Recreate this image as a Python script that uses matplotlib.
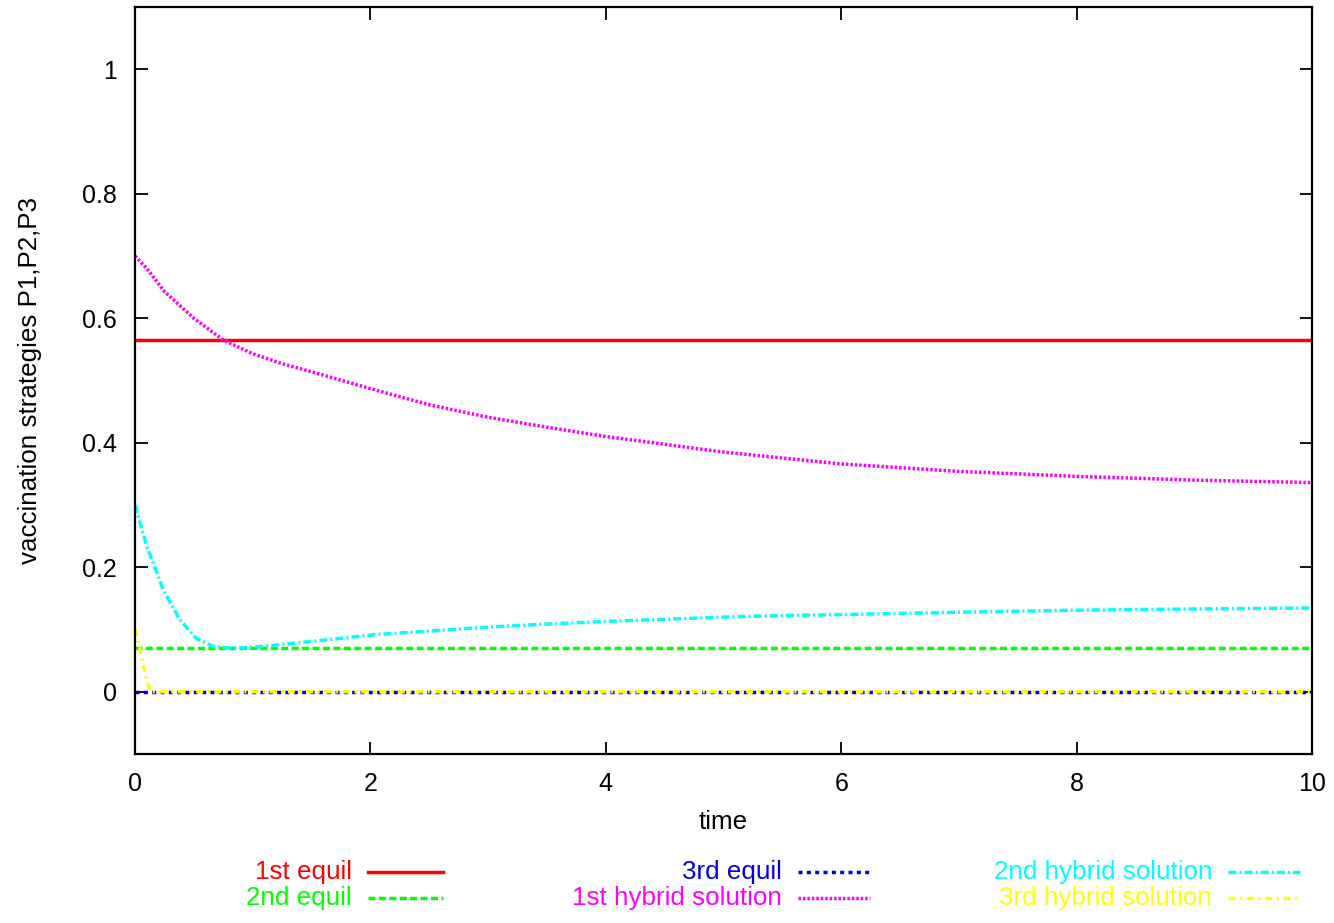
import matplotlib
matplotlib.use("Agg")
from matplotlib import pyplot as plt
from matplotlib.lines import Line2D

plt.rcParams['font.family'] = ['Liberation Sans', 'DejaVu Sans']
plt.rcParams['lines.scale_dashes'] = False

# equilibrium levels
equil1 = 0.565
equil2 = 0.07
equil3 = 0.0
t_range = [0.0, 10.0]

# hybrid solutions P1, P2, P3 over time
t_p1 = [0, 0.1, 0.25, 0.5, 0.75, 1.0, 1.25, 1.5, 2.0, 2.5, 3.0, 3.5, 4.0, 5.0, 6.0, 7.0, 8.0, 9.0, 10.0]
p1 = [0.700, 0.680, 0.643, 0.600, 0.565, 0.543, 0.527, 0.514, 0.487, 0.461, 0.441, 0.425, 0.410,
      0.385, 0.366, 0.354, 0.346, 0.340, 0.336]

t_p2 = [0, 0.1, 0.24, 0.38, 0.52, 0.66, 0.81, 0.95, 1.09, 1.4, 1.66, 2.05, 2.46, 3.0, 3.53, 4.0,
        4.59, 5.0, 5.65, 6.0, 7.07, 8.0, 8.48, 9.0, 10.0]
p2 = [0.300, 0.234, 0.164, 0.116, 0.086, 0.073, 0.070, 0.071, 0.073, 0.079, 0.084, 0.092, 0.097,
      0.104, 0.109, 0.113, 0.117, 0.120, 0.123, 0.124, 0.128, 0.131, 0.132, 0.133, 0.1345]

t_p3 = [0, 0.04, 0.08, 0.11, 0.13, 10.0]
p3 = [0.100, 0.070, 0.035, 0.012, 0.0, 0.0]

labels = ['1st equil', '2nd equil', '3rd equil',
          '1st hybrid solution', '2nd hybrid solution', '3rd hybrid solution']
colors = ['#ff0000', '#00ff00', '#0000e0', '#ff00ff', '#00ffff', '#ffff00']
dashes = [None, (0, (5.0, 2.5)), (0, (2.9, 3.1)), (0, (1.8, 1.4)),
          (0, (5.8, 2.2, 1.4, 2.2)), (0, (5.0, 3.4, 1.4, 3.4))]

W, H = 1334, 923
fig = plt.figure(figsize=(W / 100, H / 100), dpi=100)
ax = fig.add_axes([135 / W, 1 - 754 / H, (1312 - 135) / W, (754 - 7) / H])

lw = 2.5
fs = 18.7
series = [
    (t_range, [equil1, equil1]),
    (t_range, [equil2, equil2]),
    (t_range, [equil3, equil3]),
    (t_p1, p1),
    (t_p2, p2),
    (t_p3, p3),
]
for (xs, ys), c, d in zip(series, colors, dashes):
    if d is None:
        ax.plot(xs, ys, color=c, lw=lw, solid_capstyle='butt')
    else:
        ax.plot(xs, ys, color=c, lw=lw, linestyle=d, dash_capstyle='butt')

ax.set_xlim(0, 10)
ax.set_ylim(-0.1, 1.1)
ax.set_xticks([0, 2, 4, 6, 8, 10])
ax.set_yticks([0, 0.2, 0.4, 0.6, 0.8, 1])
ax.set_yticklabels(['0', '0.2', '0.4', '0.6', '0.8', '1'])
ax.tick_params(direction='in', length=9, width=1.3, top=True, right=True,
               labelsize=18, pad=13)
for s in ax.spines.values():
    s.set_linewidth(1.6)

ax.set_xlabel('time', fontsize=fs, labelpad=10)
ax.set_ylabel('vaccination strategies P1,P2,P3', fontsize=fs, labelpad=29)

# key below the plot, three columns of two
text_right = [352, 782, 1212]
sample_x = [(368, 443), (798, 870), (1228, 1300)]
rows_y = [872, 898]
for i, (lab, c, d) in enumerate(zip(labels, colors, dashes)):
    col, row = divmod(i, 2)
    y = 1 - rows_y[row] / H
    fig.text(text_right[col] / W, y, lab, color=c, ha='right', va='center', fontsize=fs)
    x0, x1 = sample_x[col]
    ln = Line2D([x0 / W, x1 / W], [y, y], transform=fig.transFigure, color=c, lw=lw,
                linestyle='-' if d is None else d, dash_capstyle='butt')
    fig.add_artist(ln)

fig.savefig('out.png', dpi=100)
